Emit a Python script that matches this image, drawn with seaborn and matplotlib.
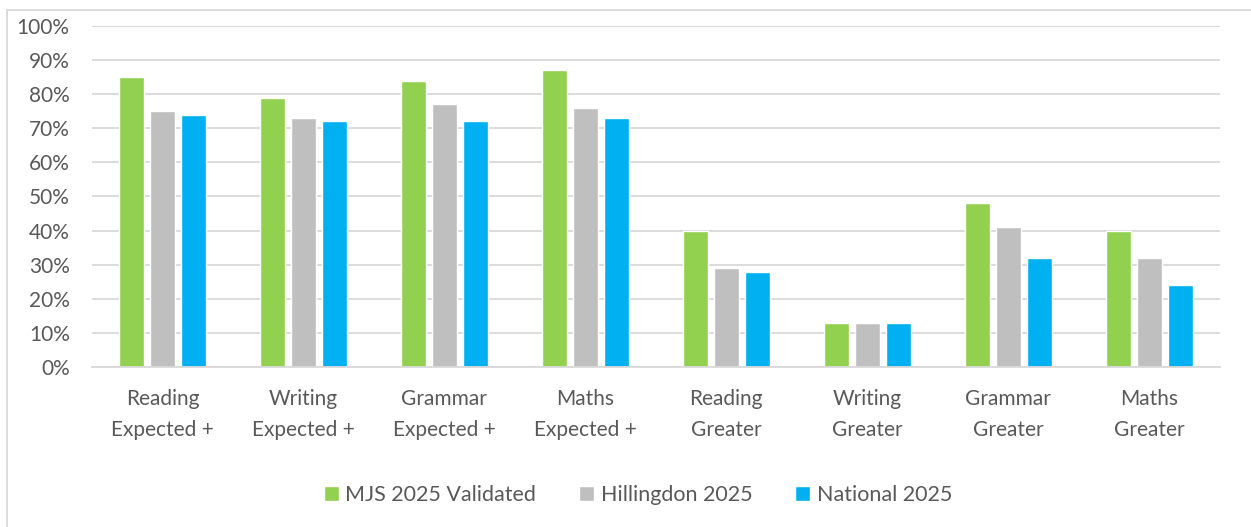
import pandas as pd
import seaborn as sns
from matplotlib import pyplot as plt
from matplotlib.patches import Rectangle
from matplotlib.ticker import PercentFormatter

# values
categories = ['Reading\nExpected +', 'Writing\nExpected +', 'Grammar\nExpected +', 'Maths\nExpected +',
              'Reading\nGreater', 'Writing\nGreater', 'Grammar\nGreater', 'Maths\nGreater']
series_names = ['MJS 2025 Validated', 'Hillingdon 2025', 'National 2025']
mjs_2025 = [85, 79, 84, 87, 40, 13, 48, 40]
hillingdon_2025 = [75, 73, 77, 76, 29, 13, 41, 32]
national_2025 = [74, 72, 72, 73, 28, 13, 32, 24]
y_ticks = [0, 10, 20, 30, 40, 50, 60, 70, 80, 90, 100]

colours = ['#92D050', '#BFBFBF', '#00B0F0']
text_col = '#595959'


def build_frame():
    rows = []
    for name, vals in zip(series_names, [mjs_2025, hillingdon_2025, national_2025]):
        for cat, v in zip(categories, vals):
            rows.append({'Category': cat, 'Series': name, 'Value': v})
    return pd.DataFrame(rows)


def main():
    df = build_frame()
    sns.set_style('white')
    plt.rcParams['font.family'] = ['Lato', 'DejaVu Sans']

    fig = plt.figure(figsize=(12.51, 5.27), dpi=100)
    ax = fig.add_axes([0.0735, 0.3036, 0.9015, 0.6471])

    sns.barplot(data=df, x='Category', y='Value', hue='Series', hue_order=series_names,
                palette=colours, width=0.66, gap=0.19, saturation=1, ax=ax)

    ax.set_ylim(0, 100)
    ax.set_xlim(-0.5, len(categories) - 0.5)
    ax.set_yticks(y_ticks)
    ax.yaxis.set_major_formatter(PercentFormatter(decimals=0))
    ax.grid(axis='y', color='#D9D9D9', linewidth=1.3)
    ax.set_axisbelow(True)
    for side in ['left', 'right', 'top']:
        ax.spines[side].set_visible(False)
    ax.spines['bottom'].set_color('#D9D9D9')
    ax.spines['bottom'].set_linewidth(1.3)
    ax.tick_params(axis='both', length=0, labelsize=15, labelcolor=text_col)
    ax.tick_params(axis='y', pad=16)
    ax.tick_params(axis='x', pad=16)
    for lbl in ax.get_xticklabels():
        lbl.set_linespacing(1.7)
    ax.set_xlabel('')
    ax.set_ylabel('')

    # legend centred on the whole chart, not on the plot area
    ax.legend(loc='center', bbox_to_anchor=(0.51, 0.06), bbox_transform=fig.transFigure,
              ncol=3, frameon=False, fontsize=15.5, labelcolor=text_col,
              handlelength=0.7, handleheight=0.7, handletextpad=0.3, columnspacing=2.0)

    # light chart border like the office export
    fig.patches.append(Rectangle((0.0056, -0.01), 1.0, 0.991, transform=fig.transFigure,
                                 fill=False, edgecolor='#D9D9D9', linewidth=1.3))

    fig.savefig('out.png', dpi=100)


if __name__ == '__main__':
    main()
